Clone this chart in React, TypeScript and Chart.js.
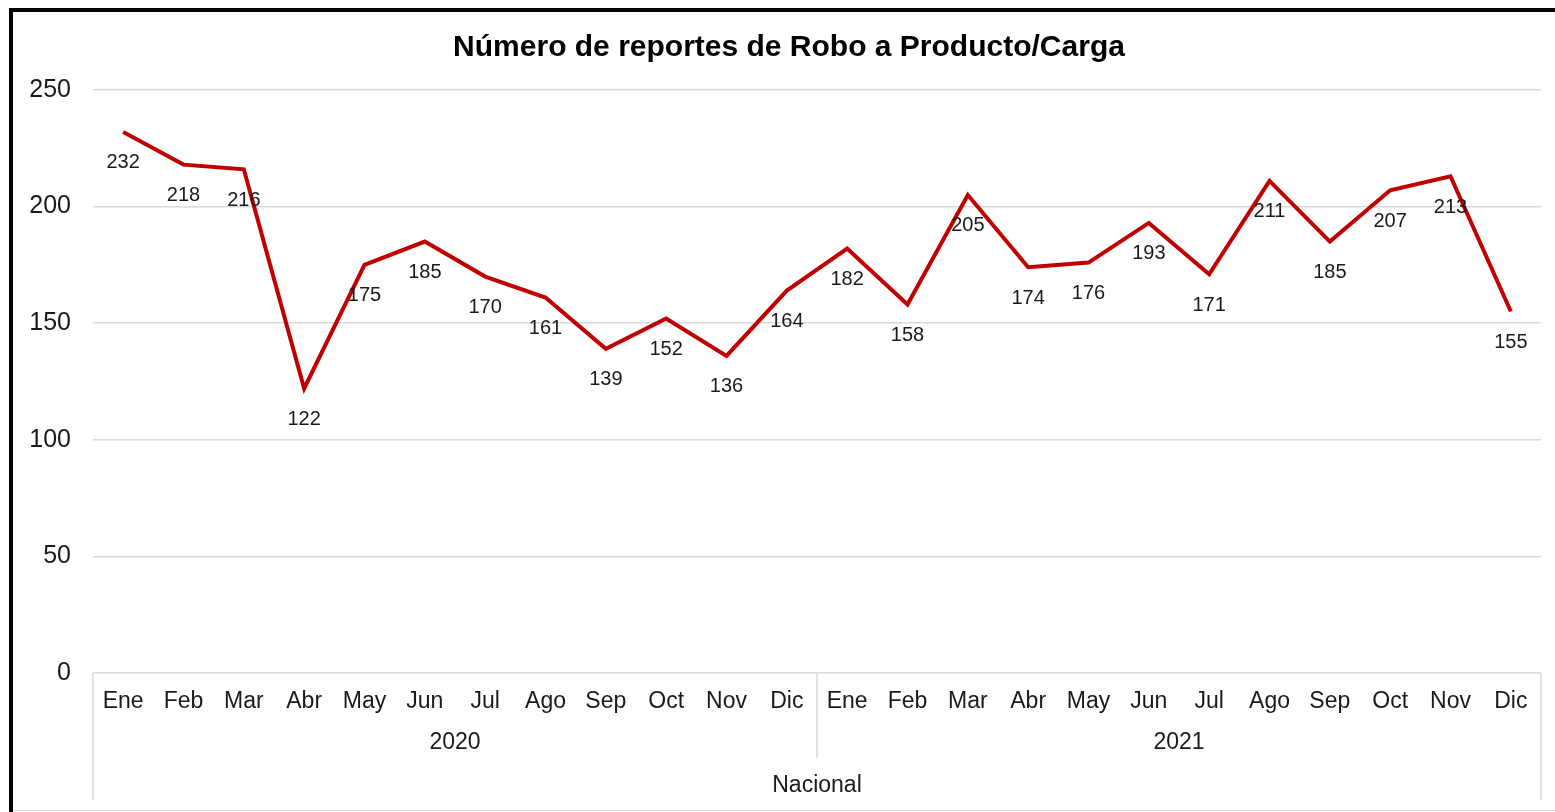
import React, { useEffect, useRef } from "react";
import { Chart, registerables } from "chart.js";

Chart.register(...registerables);

const months = ["Ene", "Feb", "Mar", "Abr", "May", "Jun", "Jul", "Ago", "Sep", "Oct", "Nov", "Dic"];
const years = ["2020", "2021"];
const groupLabel = "Nacional";
const categories = years.flatMap((y) => months.map((m) => `${m} ${y}`));
const values = [232, 218, 216, 122, 175, 185, 170, 161, 139, 152, 136, 164, 182, 158, 205, 174, 176, 193, 171, 211, 185, 207, 213, 155];
const title = "Número de reportes de Robo a Producto/Carga";

const FONT = "'Liberation Sans', Arial, sans-serif";

const framePlugin = {
  id: "framePlugin",
  beforeDraw(chart: any) {
    const { ctx, width, height } = chart;
    ctx.save();
    ctx.fillStyle = "#ffffff";
    ctx.fillRect(0, 0, width, height);
    ctx.restore();
  },
  afterDraw(chart: any) {
    const { ctx, width, height, chartArea } = chart;
    const x = chart.scales.x;
    ctx.save();
    // outer frame
    ctx.fillStyle = "#000000";
    ctx.fillRect(9, 8, 4, height - 8);
    ctx.fillRect(9, 8, width - 9, 4);
    ctx.fillStyle = "#d9d9d9";
    ctx.fillRect(13, height - 2, width - 13, 1);

    // title
    ctx.fillStyle = "#000000";
    ctx.font = `bold 30px ${FONT}`;
    ctx.textAlign = "center";
    ctx.textBaseline = "middle";
    ctx.fillText(title, 789, 48);

    // category box
    const left = chartArea.left;
    const right = chartArea.right;
    const bottom = chartArea.bottom;
    ctx.strokeStyle = "#d9d9d9";
    ctx.lineWidth = 1.5;
    const mid = (x.getPixelForValue(11) + x.getPixelForValue(12)) / 2;
    ctx.beginPath();
    ctx.moveTo(left, bottom);
    ctx.lineTo(left, 800);
    ctx.moveTo(right, bottom);
    ctx.lineTo(right, 800);
    ctx.moveTo(mid, bottom);
    ctx.lineTo(mid, 758);
    ctx.stroke();

    ctx.fillStyle = "#1a1a1a";
    ctx.font = `23px ${FONT}`;
    categories.forEach((c, i) => {
      ctx.fillText(months[i % 12], x.getPixelForValue(i), 702);
    });
    ctx.fillText(years[0], (left + mid) / 2, 743);
    ctx.fillText(years[1], (mid + right) / 2, 743);
    ctx.fillText(groupLabel, (left + right) / 2, 786);

    // data labels
    const meta = chart.getDatasetMeta(0);
    ctx.font = `20px ${FONT}`;
    meta.data.forEach((pt: any, i: number) => {
      ctx.fillText(String(values[i]), pt.x, pt.y + 31);
    });
    ctx.restore();
  },
};

export default function App() {
  const ref = useRef<HTMLCanvasElement>(null);
  useEffect(() => {
    if (!ref.current) return;
    const chart = new Chart(ref.current, {
      type: "line",
      data: {
        labels: categories,
        datasets: [
          {
            data: values,
            borderColor: "#c00000",
            borderWidth: 4,
            pointRadius: 0,
            tension: 0,
            fill: false,
          },
        ],
      },
      options: {
        animation: false,
        responsive: false,
        layout: { padding: { left: 0, top: 90, right: 14, bottom: 0 } },
        plugins: { legend: { display: false }, title: { display: false }, tooltip: { enabled: false } },
        scales: {
          x: {
            offset: true,
            grid: { display: false },
            border: { display: false },
            ticks: { display: false },
            afterFit: (s: any) => {
              s.height = 139;
            },
          },
          y: {
            min: 0,
            max: 250,
            ticks: { stepSize: 50, padding: 22, color: "#1a1a1a", font: { family: FONT, size: 25 } },
            grid: { color: "#d9d9d9", lineWidth: 1.5, drawTicks: false },
            border: { display: false },
            afterFit: (s: any) => {
              s.width = 93;
            },
          },
        },
      },
      plugins: [framePlugin],
    });
    return () => chart.destroy();
  }, []);
  return (
    <div style={{ position: "fixed", left: 0, top: 0, width: 1555, height: 812 }}>
      <canvas ref={ref} width={1555} height={812} style={{ display: "block" }} />
    </div>
  );
}
